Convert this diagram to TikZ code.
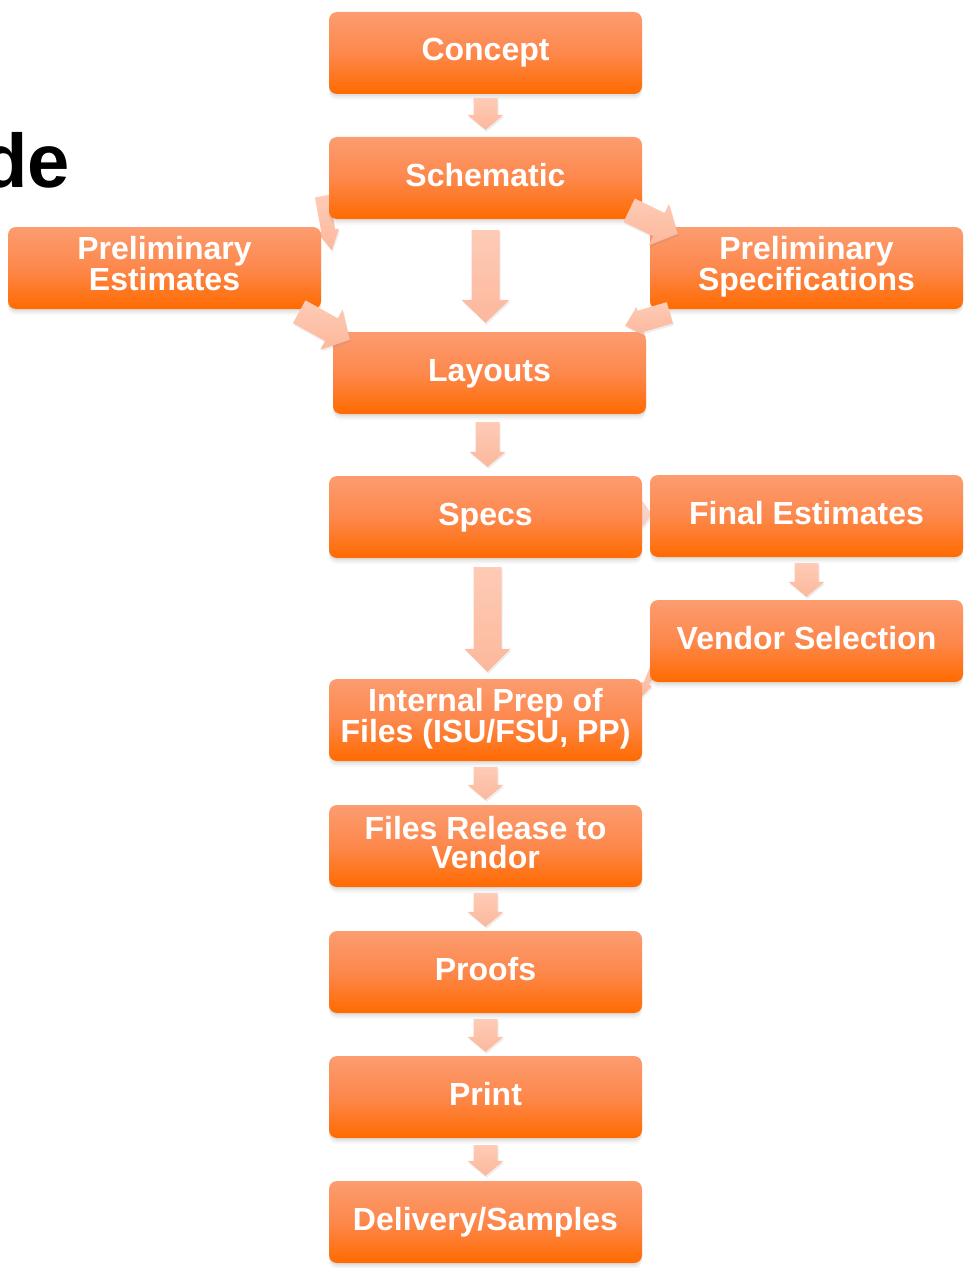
\documentclass[tikz,border=0pt]{standalone}
\usepackage{fontspec}
\setmainfont{Liberation Sans}
\usetikzlibrary{calc,shadows}
\pgfdeclarelayer{back}
\pgfdeclarelayer{front}
\pgfsetlayers{back,main,front}

\definecolor{boxtop}{RGB}{252,156,112}
\definecolor{boxmid}{RGB}{253,136,76}
\definecolor{boxbot}{RGB}{255,106,0}
\definecolor{arrtop}{RGB}{254,203,182}
\definecolor{arrbot}{RGB}{252,184,156}

\tikzset{
  stepbox/.style={rounded corners=8pt, minimum width=313pt, minimum height=82pt,
    inner sep=0pt, top color=boxtop, bottom color=boxbot, middle color=boxmid,
    text=white, align=center, font=\fontsize{32}{28.5}\selectfont\bfseries,
    text height=23pt, text depth=7pt,
    drop shadow={opacity=0.12, shadow xshift=0pt, shadow yshift=-2pt},
    drop shadow={opacity=0.09, shadow xshift=0pt, shadow yshift=-4pt},
    drop shadow={opacity=0.06, shadow xshift=0pt, shadow yshift=-6pt}},
  twoline/.style={stepbox, text height=51.5pt, text depth=7pt},
  blockarrow/.style={top color=arrtop, bottom color=arrbot,
    drop shadow={opacity=0.14, shadow xshift=1pt, shadow yshift=-2pt}},
}

% block arrow: [extra style] {tail} {tip} {half shaft} {half head} {head length}
\newcommand\blockarr[6][]{%
  \coordinate (neck) at ($(#3)!#6!(#2)$);
  \path[blockarrow,#1]
    ($(#2)!#4!90:(#3)$) -- ($(neck)!#4!90:(#3)$) -- ($(neck)!#5!90:(#3)$)
    -- (#3)
    -- ($(neck)!#5!-90:(#3)$) -- ($(neck)!#4!-90:(#3)$) -- ($(#2)!#4!-90:(#3)$)
    -- cycle;
}

\begin{document}
\begin{tikzpicture}[x=1pt,y=-1pt]
\useasboundingbox (0,0) rectangle (971,1268);

% title fragment
\node[anchor=base east, inner sep=0pt, text=black,
      font=\fontsize{76}{76}\selectfont\bfseries] (title) at (70,187) {de};

% process steps
\node[stepbox] (concept)  at (485.5,53)   {Concept};
\node[stepbox] (schem)    at (485.5,178)  {Schematic};
\node[twoline] (prelspec) at (806.5,268)  {Preliminary\\Specifications};
\node[stepbox] (layouts)  at (489.5,373)  {Layouts};
\node[stepbox] (specs)    at (485.5,517)  {Specs};
\node[stepbox] (finalest) at (806.5,516)  {Final Estimates};
\node[stepbox] (vendor)   at (806.5,641)  {Vendor Selection};
\node[twoline] (internal) at (485.5,720)  {Internal Prep of\\Files (ISU/FSU, PP)};
\node[twoline] (release)  at (485.5,846)  {Files Release to\\Vendor};
\node[stepbox] (proofs)   at (485.5,972)  {Proofs};
\node[stepbox] (print)    at (485.5,1097) {Print};
\node[stepbox] (delivery) at (485.5,1222) {Delivery/Samples};

% arrows tucked behind the boxes
\begin{pgfonlayer}{back}
  \coordinate (a3s) at ($(schem.south west)+(-7,-23)$);
  \coordinate (a3e) at ($(schem.south west)+(3,31)$);
  \blockarr{a3s}{a3e}{7pt}{11pt}{20pt}
  \coordinate (a7s) at ($(specs.east)+(-8,-3)$);
  \coordinate (a7e) at ($(finalest.west)+(2,-2)$);
  \blockarr[opacity=0.6]{a7s}{a7e}{8pt}{14pt}{10pt}
  \coordinate (a9s) at ($(vendor.south west)+(6,-22)$);
  \coordinate (a9e) at ($(internal.north east)+(-1,18)$);
  \blockarr{a9s}{a9e}{3pt}{6pt}{14pt}
\end{pgfonlayer}

\node[twoline] (prelest)  at (164.5,268)  {Preliminary\\Estimates};

\begin{pgfonlayer}{front}
  % Concept -> Schematic
  \coordinate (a1s) at ($(concept.south)+(0,4)$);
  \coordinate (a1e) at ($(schem.north)+(0,-7)$);
  \blockarr{a1s}{a1e}{12pt}{18pt}{15pt}
  % Schematic -> Layouts
  \coordinate (a2s) at ($(schem.south)+(0,11)$);
  \coordinate (a2e) at ($(schem.south |- layouts.north)+(0,-9)$);
  \blockarr{a2s}{a2e}{14pt}{24pt}{23pt}
  % Schematic -> Preliminary Specifications
  \coordinate (a4s) at ($(schem.south east)+(-13,-9)$);
  \coordinate (a4e) at ($(prelspec.north west)+(28,7)$);
  \blockarr{a4s}{a4e}{13pt}{23pt}{21pt}
  % Preliminary Estimates -> Layouts
  \coordinate (a5s) at ($(prelest.south east)+(-22,2.5)$);
  \coordinate (a5e) at ($(layouts.north west)+(17,8)$);
  \blockarr{a5s}{a5e}{13pt}{23pt}{21pt}
  % Preliminary Specifications -> Layouts
  \coordinate (a6s) at ($(prelspec.south west)+(20,3.5)$);
  \coordinate (a6e) at ($(layouts.north east)+(-21,-6)$);
  \blockarr{a6s}{a6e}{11pt}{15pt}{16pt}
  % Layouts -> Specs
  \coordinate (a8s) at ($(layouts.south)+(-2,8)$);
  \coordinate (a8e) at ($(layouts.south |- specs.north)+(-2,-9)$);
  \blockarr{a8s}{a8e}{12pt}{18pt}{15pt}
  % Specs -> Internal Prep
  \coordinate (a10s) at ($(specs.south)+(2,9)$);
  \coordinate (a10e) at ($(internal.north)+(2,-7)$);
  \blockarr{a10s}{a10e}{14pt}{23pt}{23pt}
  % Final Estimates -> Vendor Selection
  \coordinate (a11s) at ($(finalest.south)+(0,6)$);
  \coordinate (a11e) at ($(vendor.north)+(0,-3)$);
  \blockarr{a11s}{a11e}{12pt}{18pt}{15pt}
  % lower chain
  \coordinate (a12s) at ($(internal.south)+(0,6)$);
  \coordinate (a12e) at ($(release.north)+(0,-5)$);
  \blockarr{a12s}{a12e}{12pt}{18pt}{15pt}
  \coordinate (a13s) at ($(release.south)+(0,6)$);
  \coordinate (a13e) at ($(proofs.north)+(0,-4)$);
  \blockarr{a13s}{a13e}{12pt}{18pt}{15pt}
  \coordinate (a14s) at ($(proofs.south)+(0,6)$);
  \coordinate (a14e) at ($(print.north)+(0,-4)$);
  \blockarr{a14s}{a14e}{12pt}{18pt}{15pt}
  \coordinate (a15s) at ($(print.south)+(0,7)$);
  \coordinate (a15e) at ($(delivery.north)+(0,-5)$);
  \blockarr{a15s}{a15e}{12pt}{18pt}{15pt}
\end{pgfonlayer}
\end{tikzpicture}
\end{document}
